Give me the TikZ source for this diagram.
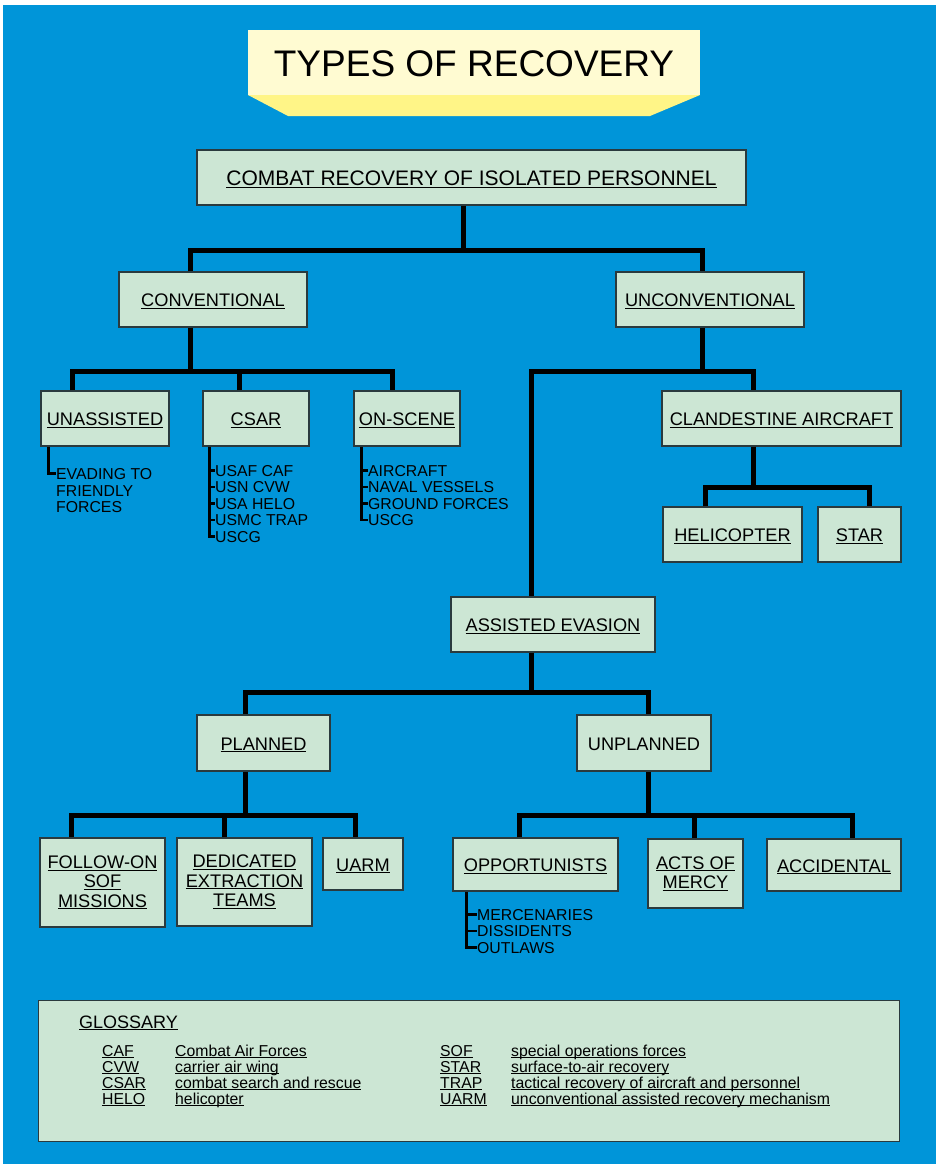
\documentclass[tikz,border=0pt]{standalone}
\usepackage{fontspec}
\setmainfont{Liberation Sans}
\definecolor{bg}{HTML}{0095D9}
\definecolor{boxfill}{HTML}{CCE6D4}
\definecolor{ttl}{HTML}{FFFBD2}
\definecolor{ttlb}{HTML}{FFF587}
\definecolor{bord}{HTML}{2A3A3E}
\newsavebox\ulbox
\newcommand\uln[1]{\sbox\ulbox{#1}\rlap{\rule[-2.2pt]{\wd\ulbox}{1.1pt}}\usebox\ulbox}
\tikzset{
  box/.style={draw=bord, line width=1.2pt, fill=boxfill, inner sep=0pt, align=center,
    font=\fontsize{18.2}{19.3}\selectfont, text=black},
  sbox/.style={box, text height=14.5pt, text depth=0pt},
  conn/.style={line width=5pt, black},
  sub/.style={line width=2.2pt, black},
  lst/.style={anchor=base west, inner sep=0pt, font=\fontsize{15.8}{16}\selectfont},
  gl/.style={anchor=base west, inner sep=0pt, font=\fontsize{15.8}{16}\selectfont},
}
\begin{document}
\begin{tikzpicture}[x=1pt,y=-1pt]
\useasboundingbox (0,0) rectangle (936,1164);
\fill[white] (0,0) rectangle (936,1164);
\fill[bg] (3,5) rectangle (936,1164);
% title
\fill[ttl] (248,30) rectangle (700,95);
\fill[ttlb] (248,95) -- (700,95) -- (650,116) -- (288,116) -- cycle;
\node[anchor=base, inner sep=0pt, font=\fontsize{37}{40}\selectfont] (title) at (474,77) {TYPES OF RECOVERY};

% boxes
\node[box, text height=16.5pt, text depth=0pt, minimum width=549pt, minimum height=55pt, font=\fontsize{21}{24}\selectfont] (top) at (471.5,177.5) {\uln{COMBAT RECOVERY OF ISOLATED PERSONNEL}};
\node[sbox, minimum width=188pt, minimum height=55pt] (conv) at (213,299.5) {\uln{CONVENTIONAL}};
\node[sbox, minimum width=188pt, minimum height=55pt] (unconv) at (710,299.5) {\uln{UNCONVENTIONAL}};
\node[sbox, minimum width=128pt, minimum height=55pt] (unassisted) at (105,418.5) {\uln{UNASSISTED}};
\node[sbox, minimum width=106pt, minimum height=55pt] (csar) at (256,418.5) {\uln{CSAR}};
\node[sbox, minimum width=106pt, minimum height=55pt] (onscene) at (407,418.5) {\uln{ON-SCENE}};
\node[sbox, minimum width=239pt, minimum height=55pt] (clandestine) at (781.5,418.5) {\uln{CLANDESTINE AIRCRAFT}};
\node[sbox, minimum width=139pt, minimum height=55pt] (heli) at (732.5,534.5) {\uln{HELICOPTER}};
\node[sbox, minimum width=83pt, minimum height=55pt] (star) at (859.5,534.5) {\uln{STAR}};
\node[sbox, minimum width=204pt, minimum height=55pt] (assisted) at (553,624.5) {\uln{ASSISTED EVASION}};
\node[sbox, minimum width=133pt, minimum height=56pt] (planned) at (263.5,743) {\uln{PLANNED}};
\node[sbox, minimum width=134pt, minimum height=56pt] (unplanned) at (644,743) {UNPLANNED};
\node[box, minimum width=125pt, minimum height=89pt] (followon) at (102.5,882.5) {\uln{FOLLOW-ON}\\\uln{SOF}\\\uln{MISSIONS}};
\node[box, minimum width=135pt, minimum height=88pt] (dedicated) at (244.5,882) {\uln{DEDICATED}\\\uln{EXTRACTION}\\\uln{TEAMS}};
\node[sbox, minimum width=80pt, minimum height=52pt] (uarm) at (363,864) {\uln{UARM}};
\node[sbox, minimum width=165pt, minimum height=53pt] (opp) at (535.5,864.5) {\uln{OPPORTUNISTS}};
\node[box, minimum width=95pt, minimum height=69pt] (acts) at (695.5,873.5) {\uln{ACTS OF}\\\uln{MERCY}};
\node[sbox, minimum width=134pt, minimum height=52pt] (accidental) at (834,865) {\uln{ACCIDENTAL}};

% connectors
\coordinate (j1) at (463,250);
\coordinate (conT) at ([xshift=-23pt]conv.north);
\coordinate (unT) at ([xshift=-8pt]unconv.north);
\draw[conn] ([xshift=-8.5pt]top.south) -- (j1);
\draw[conn] (conT) |- (j1) -| (unT);

\coordinate (j2) at (190,371);
\coordinate (uaT) at ([xshift=-33pt]unassisted.north);
\coordinate (csT) at ([xshift=-17pt]csar.north);
\coordinate (osT) at ([xshift=-15pt]onscene.north);
\draw[conn] ([xshift=-23pt]conv.south) -- (j2);
\draw[conn] (uaT) |- (j2) -| (osT);
\draw[conn] (csT) -- (csT |- j2);

\coordinate (j3) at (702,371);
\coordinate (aeT) at ([xshift=-22pt]assisted.north);
\coordinate (clT) at ([xshift=-28.5pt]clandestine.north);
\draw[conn] ([xshift=-8pt]unconv.south) -- (j3);
\draw[conn] (aeT) |- (j3) -| (clT);

\coordinate (j4) at (753,487);
\coordinate (heT) at ([xshift=-27.5pt]heli.north);
\coordinate (stT) at ([xshift=9.5pt]star.north);
\draw[conn] ([xshift=-28.5pt]clandestine.south) -- (j4);
\draw[conn] (heT) |- (j4) -| (stT);

\coordinate (j5) at (531,692);
\coordinate (plT) at ([xshift=-18.5pt]planned.north);
\coordinate (upT) at ([xshift=4pt]unplanned.north);
\draw[conn] ([xshift=-22pt]assisted.south) -- (j5);
\draw[conn] (plT) |- (j5) -| (upT);

\coordinate (j6) at (245,815);
\coordinate (foT) at ([xshift=-31.5pt]followon.north);
\coordinate (deT) at ([xshift=-20.5pt]dedicated.north);
\coordinate (umT) at ([xshift=-8pt]uarm.north);
\draw[conn] ([xshift=-18.5pt]planned.south) -- (j6);
\draw[conn] (foT) |- (j6) -| (umT);
\draw[conn] (deT) -- (deT |- j6);

\coordinate (j7) at (648,815);
\coordinate (opT) at ([xshift=-16.5pt]opp.north);
\coordinate (acT) at ([xshift=-1.5pt]acts.north);
\coordinate (adT) at ([xshift=18pt]accidental.north);
\draw[conn] ([xshift=4pt]unplanned.south) -- (j7);
\draw[conn] (opT) |- (j7) -| (adT);
\draw[conn] (acT) -- (acT |- j7);

% sub lists
\node[lst] (ev1) at (56,479) {EVADING TO};
\node[lst] (ev2) at (56,496) {FRIENDLY};
\node[lst] (ev3) at (56,512) {FORCES};
\draw[sub] ([xshift=8pt]unassisted.south west) |- (ev1.west);

\node[lst] (c1) at (215,476) {USAF CAF};
\node[lst] (c2) at (215,492.5) {USN CVW};
\node[lst] (c3) at (215,509) {USA HELO};
\node[lst] (c4) at (215,525.5) {USMC TRAP};
\node[lst] (c5) at (215,542) {USCG};
\coordinate (csL) at ([xshift=7pt]csar.south west);
\draw[sub] (csL) |- (c5.west);
\foreach \i in {1,...,4} \draw[sub] (csL |- c\i.west) -- (c\i.west);

\node[lst] (o1) at (368,476) {AIRCRAFT};
\node[lst] (o2) at (368,492.5) {NAVAL VESSELS};
\node[lst] (o3) at (368,509) {GROUND FORCES};
\node[lst] (o4) at (368,525.5) {USCG};
\coordinate (osL) at ([xshift=8pt]onscene.south west);
\draw[sub] (osL) |- (o4.west);
\foreach \i in {1,...,3} \draw[sub] (osL |- o\i.west) -- (o\i.west);

\node[lst] (p1) at (477,920) {MERCENARIES};
\node[lst] (p2) at (477,936.5) {DISSIDENTS};
\node[lst] (p3) at (477,953) {OUTLAWS};
\coordinate (opL) at ([xshift=14pt]opp.south west);
\draw[sub] (opL) |- (p3.west);
\foreach \i in {1,2} \draw[sub] (opL |- p\i.west) -- (p\i.west);

% glossary
\node[box, anchor=north west, minimum width=861pt, minimum height=141pt] (gloss) at (38,1000) {};
\node[gl, font=\fontsize{18}{20}\selectfont] (gh) at (79,1028) {\uln{GLOSSARY}};
\node[gl] (ga1) at (102,1056) {\uln{CAF}};
\node[gl] (ga2) at (102,1072) {\uln{CVW}};
\node[gl] (ga3) at (102,1088) {\uln{CSAR}};
\node[gl] (ga4) at (102,1104) {\uln{HELO}};
\node[gl] (gd1) at (175,1056) {\uln{Combat Air Forces}};
\node[gl] (gd2) at (175,1072) {\uln{carrier air wing}};
\node[gl] (gd3) at (175,1088) {\uln{combat search and rescue}};
\node[gl] (gd4) at (175,1104) {\uln{helicopter}};
\node[gl] (gb1) at (440,1056) {\uln{SOF}};
\node[gl] (gb2) at (440,1072) {\uln{STAR}};
\node[gl] (gb3) at (440,1088) {\uln{TRAP}};
\node[gl] (gb4) at (440,1104) {\uln{UARM}};
\node[gl] (ge1) at (511,1056) {\uln{special operations forces}};
\node[gl] (ge2) at (511,1072) {\uln{surface-to-air recovery}};
\node[gl] (ge3) at (511,1088) {\uln{tactical recovery of aircraft and personnel}};
\node[gl] (ge4) at (511,1104) {\uln{unconventional assisted recovery mechanism}};
\end{tikzpicture}
\end{document}
